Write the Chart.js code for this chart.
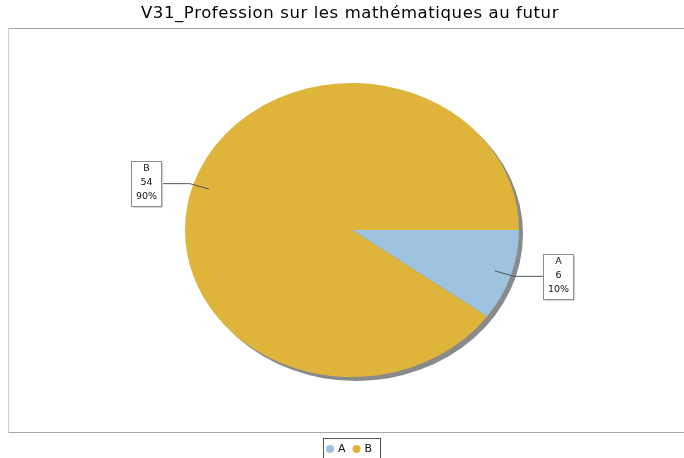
<!DOCTYPE html>
<html>
<head>
<meta charset="utf-8">
<script src="https://cdn.jsdelivr.net/npm/chart.js@4"></script>
<style>
  html, body { margin: 0; padding: 0; background: #fff; }
  #wrap { width: 684px; height: 458px; position: relative; }
</style>
</head>
<body>
<div id="wrap"><canvas id="pie"></canvas></div>
<script>
const title = "V31_Profession sur les mathématiques au futur";
const categories = ["A", "B"];
const counts = [6, 54];
const colors = ["#9dc3de", "#dfb43b"];

const yScale = 147 / 167; // pie is drawn squashed into an ellipse

// squash the pie vertically and put a grey shadow under it
const ellipsePlugin = {
  id: "ellipse",
  beforeDatasetsDraw(chart) {
    const arc = chart.getDatasetMeta(0).data[0];
    const ctx = chart.ctx;
    const cx = arc.x, cy = arc.y, r = arc.outerRadius;
    ctx.save();
    ctx.translate(cx, cy);
    ctx.scale(1, yScale);
    ctx.translate(-cx, -cy);
    ctx.fillStyle = "#8a8a8a";
    ctx.beginPath();
    ctx.arc(cx + 4, cy + 4 / yScale, r, 0, Math.PI * 2);
    ctx.fill();
  },
  afterDatasetsDraw(chart) {
    chart.ctx.restore();
  }
};

// title, frame, callout labels and legend
const decoPlugin = {
  id: "deco",
  afterDraw(chart) {
    const ctx = chart.ctx;
    const meta = chart.getDatasetMeta(0);
    const total = counts.reduce((a, b) => a + b, 0);

    ctx.save();
    // frame
    ctx.lineWidth = 1;
    ctx.strokeStyle = "#a8a8a8";
    ctx.beginPath();
    ctx.moveTo(8, 28.5); ctx.lineTo(684, 28.5);
    ctx.moveTo(8, 432.5); ctx.lineTo(684, 432.5);
    ctx.stroke();
    ctx.strokeStyle = "#cfcfcf";
    ctx.beginPath();
    ctx.moveTo(8.5, 28); ctx.lineTo(8.5, 433);
    ctx.stroke();

    // title
    ctx.fillStyle = "#000";
    ctx.font = '16.5px "DejaVu Sans"';
    ctx.letterSpacing = "0.6px";
    ctx.textAlign = "center";
    ctx.textBaseline = "middle";
    ctx.fillText(title, 350, 14);
    ctx.letterSpacing = "0px";

    // callouts
    ctx.font = '9.5px "DejaVu Sans"';
    meta.data.forEach((arc, i) => {
      const mid = (arc.startAngle + arc.endAngle) / 2;
      const r = arc.outerRadius;
      const c = Math.cos(mid), s = Math.sin(mid);
      const ix = arc.x + c * r * 0.9, iy = arc.y + s * r * 0.9 * yScale;
      const ex = arc.x + c * r * 1.02, ey = arc.y + s * r * 1.02 * yScale;
      const right = c >= 0;
      const bx = right ? ex + 29 : ex - 29;
      ctx.strokeStyle = "#555";
      ctx.beginPath();
      ctx.moveTo(ix, iy); ctx.lineTo(ex, ey); ctx.lineTo(bx, ey);
      ctx.stroke();

      const lines = [categories[i], String(counts[i]), Math.round(counts[i] / total * 100) + "%"];
      const w = Math.max(...lines.map(t => ctx.measureText(t).width)) + 9;
      const h = 45;
      const left = Math.round(right ? bx : bx - w);
      const top = Math.round(ey - h / 2);
      ctx.fillStyle = "#d8d8d8";
      ctx.fillRect(left + 2, top + 2, w, h);
      ctx.fillStyle = "#fff";
      ctx.fillRect(left, top, w, h);
      ctx.strokeStyle = "#8c8c8c";
      ctx.strokeRect(left + 0.5, top + 0.5, w, h);
      ctx.fillStyle = "#111";
      lines.forEach((t, k) => ctx.fillText(t, left + w / 2 + 0.5, top + 8 + k * 14));
    });

    // legend
    ctx.font = '11px "DejaVu Sans"';
    ctx.textAlign = "left";
    ctx.strokeStyle = "#555";
    const lx = 323, ly = 438, lw = 57, lh = 20;
    ctx.strokeRect(lx + 0.5, ly + 0.5, lw, lh);
    let x = lx + 7;
    categories.forEach((cat, i) => {
      ctx.fillStyle = colors[i];
      ctx.beginPath();
      ctx.arc(x, ly + 11, 4, 0, Math.PI * 2);
      ctx.fill();
      ctx.fillStyle = "#111";
      ctx.fillText(cat, x + 8, ly + 11);
      x += 8 + ctx.measureText(cat).width + 11;
    });
    ctx.restore();
  }
};

new Chart(document.getElementById("pie"), {
  type: "pie",
  data: {
    labels: categories,
    datasets: [{
      data: counts,
      backgroundColor: colors,
      borderWidth: 0
    }]
  },
  options: {
    responsive: true,
    maintainAspectRatio: false,
    animation: false,
    rotation: 90,
    radius: 167,
    layout: { padding: { left: 20, right: 0, top: 30, bottom: 28 } },
    plugins: {
      legend: { display: false },
      title: { display: false },
      tooltip: { enabled: false }
    }
  },
  plugins: [ellipsePlugin, decoPlugin]
});
</script>
</body>
</html>
